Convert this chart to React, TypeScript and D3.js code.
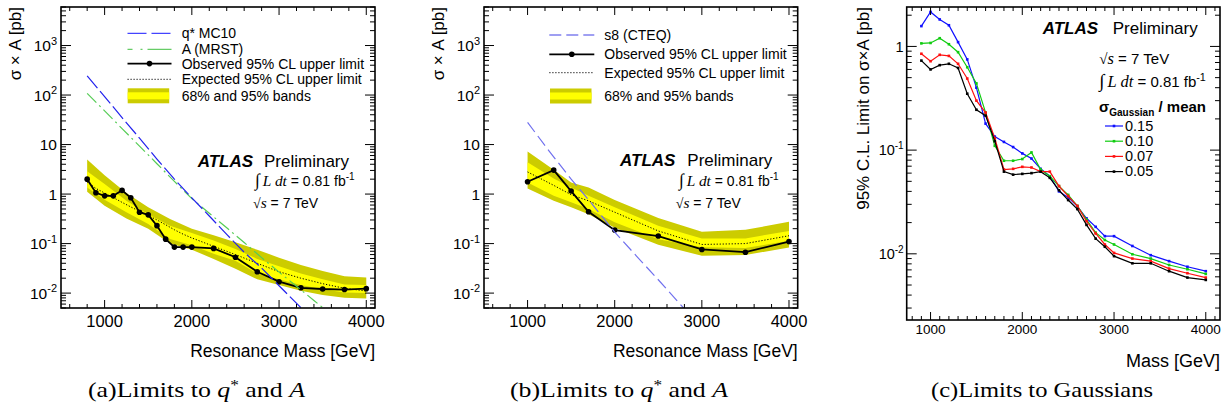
import React from 'react';
import * as d3 from 'd3';

// ---------- Panel (a): q* and A ----------
const massA = [800, 900, 1000, 1100, 1200, 1300, 1400, 1500, 1600, 1700, 1800, 1900, 2000, 2250, 2500, 2750, 3000, 3250, 3500, 3750, 4000];
const observedA = [2.0, 1.06, 0.92, 0.92, 1.19, 0.84, 0.43, 0.38, 0.23, 0.123, 0.085, 0.085, 0.085, 0.080, 0.053, 0.027, 0.017, 0.0128, 0.0121, 0.0118, 0.0123];
const expectedA = [1.75, 1.3, 1.05, 0.85, 0.68, 0.55, 0.45, 0.37, 0.3, 0.24, 0.19, 0.155, 0.13, 0.088, 0.06, 0.04, 0.027, 0.02, 0.0155, 0.0125, 0.011];
const bandMassA = [800, 1000, 1250, 1500, 1750, 2000, 2250, 2500, 2750, 3000, 3250, 3500, 3750, 4000];
const band95HiA = [5.0, 2.4, 1.05, 0.54, 0.315, 0.2, 0.148, 0.106, 0.075, 0.052, 0.037, 0.028, 0.022, 0.0207];
const band68HiA = [2.9, 1.6, 0.73, 0.39, 0.23, 0.163, 0.115, 0.078, 0.049, 0.035, 0.025, 0.019, 0.015, 0.0145];
const band68LoA = [1.35, 0.77, 0.43, 0.25, 0.124, 0.093, 0.062, 0.045, 0.025, 0.019, 0.0145, 0.012, 0.0103, 0.0100];
const band95LoA = [1.12, 0.58, 0.32, 0.2, 0.1, 0.075, 0.049, 0.031, 0.019, 0.0145, 0.0112, 0.0092, 0.0081, 0.0078];
const qstarMass = [800, 1000, 1200, 1400, 1600, 1800, 2000, 2200, 2400, 2600, 2800, 3000, 3250];
const qstarVal = [245, 93, 35, 13.5, 5.1, 2.0, 0.84, 0.36, 0.153, 0.067, 0.032, 0.0141, 0.0051];
const mrstMass = [800, 1000, 1200, 1400, 1600, 1800, 2000, 2200, 2400, 2600, 2800, 3000, 3200, 3400, 3500];
const mrstVal = [108, 48, 21, 9.3, 4.1, 1.8, 0.81, 0.41, 0.208, 0.105, 0.052, 0.0265, 0.0137, 0.0071, 0.0051];

// ---------- Panel (b): s8 ----------
const massB = [1000, 1300, 1500, 1700, 2000, 2500, 3000, 3500, 4000];
const observedB = [1.77, 3.05, 1.15, 0.44, 0.187, 0.142, 0.076, 0.067, 0.11];
const expectedB = [2.8, 1.5, 0.97, 0.73, 0.43, 0.18, 0.096, 0.1, 0.144];
const band95HiB = [7.2, 3.1, 1.72, 1.36, 0.76, 0.33, 0.174, 0.19, 0.275];
const band68HiB = [4.4, 2.07, 1.36, 0.92, 0.54, 0.23, 0.127, 0.127, 0.18];
const band68LoB = [1.72, 0.92, 0.68, 0.5, 0.27, 0.123, 0.084, 0.081, 0.114];
const band95LoB = [1.3, 0.73, 0.54, 0.39, 0.21, 0.095, 0.057, 0.059, 0.083];
const s8Mass = [1000, 1250, 1500, 1750, 2000, 2250, 2500, 2750, 2800];
const s8Val = [28, 7.3, 2.0, 0.6, 0.17, 0.056, 0.0186, 0.006, 0.0048];

// ---------- Panel (c): Gaussians ----------
const massC = [900, 1000, 1100, 1200, 1300, 1400, 1500, 1600, 1700, 1800, 1900, 2000, 2100, 2200, 2300, 2400, 2500, 2600, 2700, 2800, 2900, 3000, 3200, 3400, 3600, 3800, 4000];
const gauss015 = [1.57, 2.15, 1.82, 1.6, 1.1, 0.75, 0.4, 0.18, 0.135, 0.12, 0.107, 0.093, 0.083, 0.066, 0.056, 0.04, 0.035, 0.0287, 0.022, 0.0182, 0.0148, 0.0148, 0.0119, 0.0097, 0.0085, 0.0075, 0.0068];
const gauss010 = [1.07, 1.08, 1.2, 1.05, 0.88, 0.63, 0.44, 0.23, 0.11, 0.079, 0.079, 0.082, 0.095, 0.065, 0.056, 0.045, 0.037, 0.029, 0.0214, 0.016, 0.0136, 0.0123, 0.0099, 0.009, 0.0078, 0.0071, 0.0064];
const gauss007 = [0.85, 0.72, 0.83, 0.81, 0.68, 0.49, 0.3, 0.23, 0.13, 0.065, 0.066, 0.069, 0.068, 0.062, 0.062, 0.045, 0.036, 0.029, 0.0206, 0.0157, 0.0123, 0.0102, 0.009, 0.0085, 0.0072, 0.0065, 0.0059];
const gauss005 = [0.73, 0.6, 0.66, 0.68, 0.62, 0.35, 0.245, 0.215, 0.122, 0.062, 0.058, 0.059, 0.06, 0.062, 0.054, 0.041, 0.033, 0.027, 0.019, 0.014, 0.0117, 0.0095, 0.0081, 0.0081, 0.0068, 0.0059, 0.0056];
const gaussLabels = ['0.15', '0.10', '0.07', '0.05'];
const gaussColors = ['#1010ff', '#10cc10', '#ff1010', '#000000'];

// ---------- Axes ----------
const xDomainAB = [500, 4100];
const yDomainAB = [0.005, 6000];
const xDomainC = [740, 4155];
const yDomainC = [0.0023, 2.4];
const xTickLabels = [1000, 2000, 3000, 4000];
const yDecadesAB = [-2, -1, 0, 1, 2, 3];
const yDecadesC = [-2, -1, 0];

const SANS = "'Liberation Sans', Arial, Helvetica, sans-serif";
const SERIF = "'Liberation Serif', 'Times New Roman', serif";

type Fr = { x0: number; x1: number; y0: number; y1: number };

function zip(a: number[], b: number[]): [number, number][] {
  return a.map((v, i) => [v, b[i]]);
}

function Ticks({ fr, xs, ys, minorStep, xMaj, xMin, yMaj, yMin }: any) {
  const out: any[] = [];
  const [d0, d1] = xs.domain();
  let k = 0;
  for (let v = Math.ceil(d0 / minorStep) * minorStep; v <= d1; v += minorStep) {
    const isMaj = v % 1000 === 0;
    const L = isMaj ? xMaj : xMin;
    const x = xs(v);
    out.push(<line key={'xb' + k} x1={x} x2={x} y1={fr.y1} y2={fr.y1 - L} />);
    out.push(<line key={'xt' + k} x1={x} x2={x} y1={fr.y0} y2={fr.y0 + L} />);
    k++;
  }
  const [e0, e1] = ys.domain();
  for (let e = Math.floor(Math.log10(e0)); e <= Math.ceil(Math.log10(e1)); e++) {
    for (let m = 1; m < 10; m++) {
      const v = m * Math.pow(10, e);
      if (v < e0 || v > e1) continue;
      const L = m === 1 ? yMaj : yMin;
      const y = ys(v);
      out.push(<line key={'yl' + e + '_' + m} x1={fr.x0} x2={fr.x0 + L} y1={y} y2={y} />);
      out.push(<line key={'yr' + e + '_' + m} x1={fr.x1} x2={fr.x1 - L} y1={y} y2={y} />);
    }
  }
  return (
    <g stroke="#000" strokeWidth={1}>
      {out}
      <rect x={fr.x0} y={fr.y0} width={fr.x1 - fr.x0} height={fr.y1 - fr.y0} fill="none" strokeWidth={1.6} />
    </g>
  );
}

function YLabels({ ys, decades, xRight, fs, sup }: any) {
  return (
    <g fontFamily={SANS} fontSize={fs} textAnchor="end">
      {decades.map((e: number) => {
        const y = ys(Math.pow(10, e)) + fs * 0.36;
        if (e === 0) return <text key={e} x={xRight} y={y}>1</text>;
        if (e === 1) return <text key={e} x={xRight} y={y}>10</text>;
        return (
          <text key={e} x={xRight} y={y}>
            10<tspan dy={-fs * 0.42} fontSize={sup}>{e}</tspan>
          </text>
        );
      })}
    </g>
  );
}

function XLabels({ xs, y, fs }: any) {
  return (
    <g fontFamily={SANS} fontSize={fs} textAnchor="middle">
      {xTickLabels.map((v) => (
        <text key={v} x={xs(v)} y={y}>{v}</text>
      ))}
    </g>
  );
}

function Lumi({ x, y, fs }: any) {
  return (
    <text x={x} y={y} fontFamily={SANS} fontSize={fs}>
      <tspan fontFamily={SERIF} fontSize={fs * 1.25}>∫</tspan>
      <tspan fontFamily={SERIF} fontStyle="italic" fontSize={fs * 1.1} dx={3}>L dt</tspan>
      <tspan> = 0.81 fb</tspan>
      <tspan dy={-fs * 0.4} fontSize={fs * 0.72}>-1</tspan>
    </text>
  );
}

function Sqrts({ x, y, fs }: any) {
  return (
    <text x={x} y={y} fontFamily={SANS} fontSize={fs}>
      <tspan fontFamily={SERIF}>√</tspan>
      <tspan fontFamily={SERIF} fontStyle="italic" fontSize={fs * 1.1}>s</tspan>
      <tspan> = 7 TeV</tspan>
    </text>
  );
}

function Atlas({ x, xp, y }: any) {
  return (
    <g fontFamily={SANS} fontSize={17}>
      <text x={x} y={y} fontWeight="bold" fontStyle="italic">ATLAS</text>
      <text x={xp} y={y}>Preliminary</text>
    </g>
  );
}

function Caption({ x, y, label, text, width }: any) {
  return (
    <text x={x} y={y} fontFamily={SERIF} fontSize={21} textLength={width} lengthAdjust="spacingAndGlyphs">
      {label}
      {text === 'q' ? (
        <>
          Limits to <tspan fontStyle="italic">q</tspan>
          <tspan dy={-7} fontSize={14}>*</tspan>
          <tspan dy={7}> and </tspan>
          <tspan fontStyle="italic">A</tspan>
        </>
      ) : (
        'Limits to Gaussians'
      )}
    </text>
  );
}

function BandPanel({ fr, id, mass, obs, exp, bMass, b95h, b68h, b68l, b95l, theories }: any) {
  const xs = d3.scaleLinear().domain(xDomainAB).range([fr.x0, fr.x1]);
  const ys = d3.scaleLog().domain(yDomainAB).range([fr.y1, fr.y0]);
  const area = (lo: number[], hi: number[]) =>
    d3
      .area<number>()
      .x((d, i) => xs(bMass[i]))
      .y0((d, i) => ys(lo[i]))
      .y1((d, i) => ys(hi[i]))(bMass) as string;
  const line = d3
    .line<[number, number]>()
    .x((d) => xs(d[0]))
    .y((d) => ys(d[1]));
  return (
    <g>
      <defs>
        <clipPath id={id}>
          <rect x={fr.x0} y={fr.y0} width={fr.x1 - fr.x0} height={fr.y1 - fr.y0} />
        </clipPath>
      </defs>
      <g clipPath={`url(#${id})`}>
        <path d={area(b95l, b95h)} fill="#cccc00" />
        <path d={area(b68l, b68h)} fill="#ffff00" />
        <path d={line(zip(mass, exp)) as string} fill="none" stroke="#000" strokeWidth={1} strokeDasharray="1.2,1.8" />
        <path d={line(zip(mass, obs)) as string} fill="none" stroke="#000" strokeWidth={1.8} />
        {mass.map((m: number, i: number) => (
          <circle key={m} cx={xs(m)} cy={ys(obs[i])} r={2.8} fill="#000" />
        ))}
        {theories.map((t: any, i: number) => (
          <path key={i} d={line(zip(t.mass, t.val)) as string} fill="none" stroke={t.color} strokeWidth={1.2} strokeDasharray={t.dash} />
        ))}
      </g>
      <Ticks fr={fr} xs={xs} ys={ys} minorStep={200} xMaj={8} xMin={4} yMaj={10} yMin={5} />
      <YLabels ys={ys} decades={yDecadesAB} xRight={fr.x0 - 4} fs={15.5} sup={11} />
      <XLabels xs={xs} y={327} fs={16.5} />
    </g>
  );
}

function LegendBands({ x, y }: any) {
  return (
    <g>
      <rect x={x} y={y} width={41.5} height={15} fill="#cccc00" />
      <rect x={x} y={y + 4} width={41.5} height={7} fill="#ffff00" />
    </g>
  );
}

export default function App() {
  const frA: Fr = { x0: 61, x1: 375, y0: 7, y1: 308 };
  const frB: Fr = { x0: 484, x1: 797.7, y0: 7, y1: 308 };
  const frC: Fr = { x0: 906.7, x1: 1220, y0: 7, y1: 320 };

  const xsC = d3.scaleLinear().domain(xDomainC).range([frC.x0, frC.x1]);
  const ysC = d3.scaleLog().domain(yDomainC).range([frC.y1, frC.y0]);
  const lineC = d3
    .line<[number, number]>()
    .x((d) => xsC(d[0]))
    .y((d) => ysC(d[1]));
  const gaussSeries = [gauss015, gauss010, gauss007, gauss005];

  const legendFs = 14;

  return (
    <svg width={1230} height={410} style={{ position: 'absolute', left: 0, top: 0, background: '#fff' }}>
      <rect x={0} y={0} width={1230} height={410} fill="#fff" />

      {/* ---------------- Panel (a) ---------------- */}
      <BandPanel
        fr={frA}
        id="clipA"
        mass={massA}
        obs={observedA}
        exp={expectedA}
        bMass={bandMassA}
        b95h={band95HiA}
        b68h={band68HiA}
        b68l={band68LoA}
        b95l={band95LoA}
        theories={[
          { mass: mrstMass, val: mrstVal, color: '#55cc55', dash: '13,4,2,4' },
          { mass: qstarMass, val: qstarVal, color: '#2222ee', dash: '16,4' },
        ]}
      />
      <g fontFamily={SANS} fontSize={legendFs}>
        <line x1={127.5} x2={171.5} y1={33.3} y2={33.3} stroke="#4444ff" strokeWidth={1.3} strokeDasharray="19,5" />
        <text x={181.7} y={38.3}>q* MC10</text>
        <line x1={127.5} x2={171.5} y1={49.3} y2={49.3} stroke="#66cc66" strokeWidth={1.3} strokeDasharray="5,8,2,5,24" />
        <text x={181.7} y={54.3}>A (MRST)</text>
        <line x1={127.5} x2={171.5} y1={63.6} y2={63.6} stroke="#000" strokeWidth={1.8} />
        <circle cx={149.5} cy={63.6} r={2.8} fill="#000" />
        <text x={181.7} y={68.6}>Observed 95% CL upper limit</text>
        <line x1={127.5} x2={171.5} y1={79.3} y2={79.3} stroke="#000" strokeWidth={1} strokeDasharray="1.2,1.8" />
        <text x={181.7} y={84.3}>Expected 95% CL upper limit</text>
        <LegendBands x={127.7} y={88.3} />
        <text x={181.7} y={100.7}>68% and 95% bands</text>
      </g>
      <Atlas x={197.7} xp={264} y={166.7} />
      <Lumi x={255} y={185.5} fs={14} />
      <Sqrts x={253} y={208.3} fs={14} />
      <text transform="translate(20.5,7) rotate(-90)" textAnchor="end" fontFamily={SANS} fontSize={17}>σ × A [pb]</text>
      <text x={375} y={356.7} textAnchor="end" fontFamily={SANS} fontSize={17.5}>Resonance Mass [GeV]</text>
      <Caption x={88} y={397} width={217} label="(a)" text="q" />

      {/* ---------------- Panel (b) ---------------- */}
      <BandPanel
        fr={frB}
        id="clipB"
        mass={massB}
        obs={observedB}
        exp={expectedB}
        bMass={massB}
        b95h={band95HiB}
        b68h={band68HiB}
        b68l={band68LoB}
        b95l={band95LoB}
        theories={[{ mass: s8Mass, val: s8Val, color: '#7070ee', dash: '12,5' }]}
      />
      <g fontFamily={SANS} fontSize={legendFs}>
        <line x1={549.3} x2={594.3} y1={35} y2={35} stroke="#8080ee" strokeWidth={1.3} strokeDasharray="12,5" />
        <text x={604.3} y={40}>s8 (CTEQ)</text>
        <line x1={549.3} x2={594.3} y1={54.3} y2={54.3} stroke="#000" strokeWidth={1.8} />
        <circle cx={571.8} cy={54.3} r={2.8} fill="#000" />
        <text x={604.3} y={59.3}>Observed 95% CL upper limit</text>
        <line x1={549.3} x2={594.3} y1={72.7} y2={72.7} stroke="#000" strokeWidth={1} strokeDasharray="1.2,1.8" />
        <text x={604.3} y={77.7}>Expected 95% CL upper limit</text>
        <LegendBands x={550} y={88.5} />
        <text x={604.3} y={100.5}>68% and 95% bands</text>
      </g>
      <Atlas x={620} xp={687.3} y={166} />
      <Lumi x={679} y={185.5} fs={14} />
      <Sqrts x={675.7} y={208.3} fs={14} />
      <text transform="translate(443.5,7) rotate(-90)" textAnchor="end" fontFamily={SANS} fontSize={17}>σ × A [pb]</text>
      <text x={797.7} y={356.7} textAnchor="end" fontFamily={SANS} fontSize={17.5}>Resonance Mass [GeV]</text>
      <Caption x={510} y={397} width={218} label="(b)" text="q" />

      {/* ---------------- Panel (c) ---------------- */}
      <defs>
        <clipPath id="clipC">
          <rect x={frC.x0} y={frC.y0} width={frC.x1 - frC.x0} height={frC.y1 - frC.y0} />
        </clipPath>
      </defs>
      <g clipPath="url(#clipC)">
        {gaussSeries.map((s, k) => (
          <g key={k}>
            <path d={lineC(zip(massC, s)) as string} fill="none" stroke={gaussColors[k]} strokeWidth={1.2} />
            {massC.map((m, i) => (
              <rect key={m} x={xsC(m) - 1.3} y={ysC(s[i]) - 1.3} width={2.6} height={2.6} fill={gaussColors[k]} />
            ))}
          </g>
        ))}
      </g>
      <Ticks fr={frC} xs={xsC} ys={ysC} minorStep={100} xMaj={8} xMin={4} yMaj={10} yMin={5} />
      <YLabels ys={ysC} decades={yDecadesC} xRight={frC.x0 - 3} fs={14.5} sup={10} />
      <XLabels xs={xsC} y={334} fs={13.5} />
      <Atlas x={1042.7} xp={1112.7} y={34} />
      <Sqrts x={1099.3} y={64.3} fs={15} />
      <Lumi x={1099.3} y={86.5} fs={15} />
      <text x={1099} y={111.7} fontFamily={SANS} fontSize={15} fontWeight="bold">
        σ<tspan fontSize={10} dy={4}>Gaussian</tspan>
        <tspan dy={-4}> / mean</tspan>
      </text>
      <g fontFamily={SANS} fontSize={14.5}>
        {gaussLabels.map((lab, k) => {
          const y = 126 + k * 15.2;
          return (
            <g key={lab}>
              <line x1={1105} x2={1123} y1={y} y2={y} stroke={gaussColors[k]} strokeWidth={1.2} />
              <rect x={1112.7} y={y - 1.3} width={2.6} height={2.6} fill={gaussColors[k]} />
              <text x={1125} y={y + 4.8}>{lab}</text>
            </g>
          );
        })}
      </g>
      <text transform="translate(869,7) rotate(-90)" textAnchor="end" fontFamily={SANS} fontSize={17}>95% C.L. Limit on σ×A [pb]</text>
      <text x={1220} y={366.7} textAnchor="end" fontFamily={SANS} fontSize={18}>Mass [GeV]</text>
      <Caption x={931} y={397} width={222} label="(c)" text="g" />
    </svg>
  );
}
